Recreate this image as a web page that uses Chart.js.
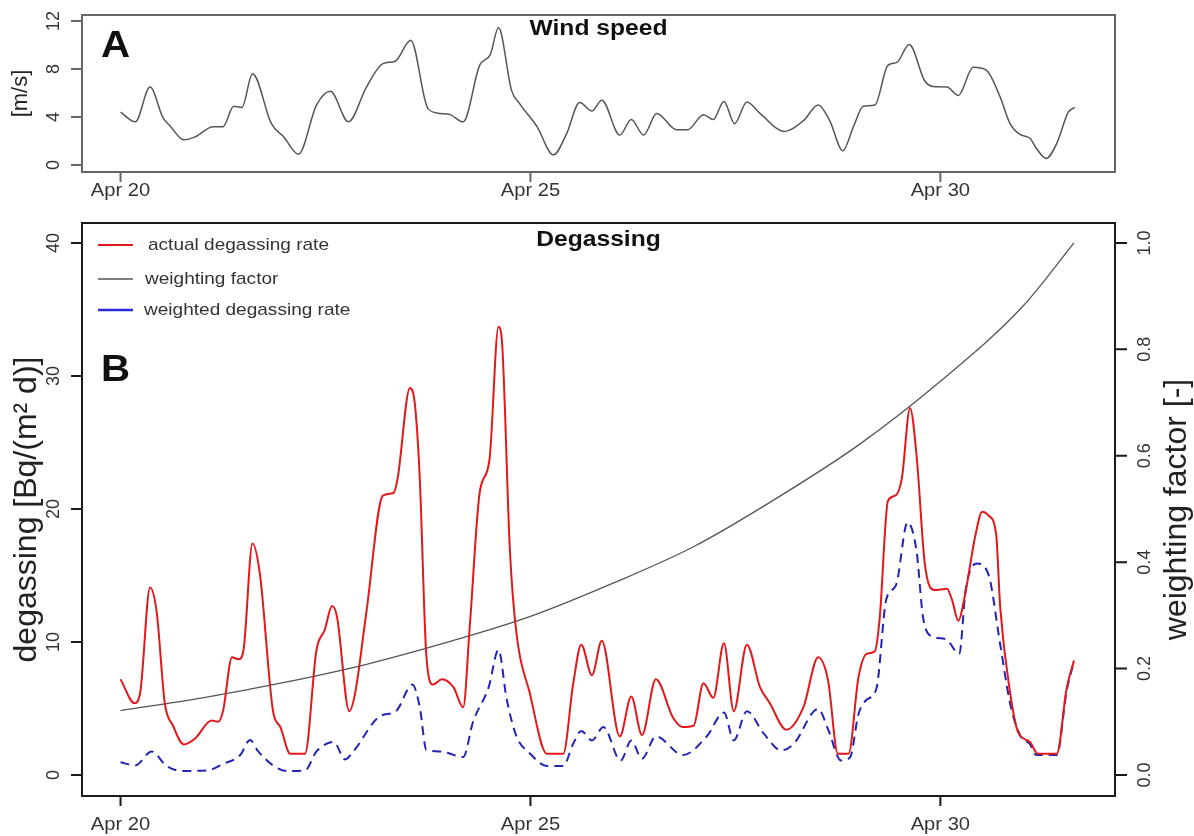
<!DOCTYPE html>
<html>
<head>
<meta charset="utf-8">
<script src="https://cdn.jsdelivr.net/npm/chart.js@4.4.1/dist/chart.umd.min.js"></script>
<style>
  body { margin: 0; background: #fff; }
  #wrap { position: relative; width: 1194px; height: 836px; }
  canvas { position: absolute; left: 0; }
</style>
</head>
<body>
<div id="wrap">
  <canvas id="windChart" width="1194" height="200" style="top:0"></canvas>
  <canvas id="degasChart" width="1194" height="636" style="top:200px"></canvas>
</div>
<script>
// x axis: days after Apr 20 00:00
const dayTicks = [0, 5, 10];
const dayLabels = ['Apr 20', 'Apr 25', 'Apr 30'];
const windTicks = [0, 4, 8, 12];
const degasTicks = [0, 10, 20, 30, 40];
const weightTicks = [0, 0.2, 0.4, 0.6, 0.8, 1.0];

// wind speed [m/s]
const windT = [0, 0.18, 0.36, 0.52, 0.6, 0.77, 0.91, 1.13, 1.25, 1.38, 1.48, 1.61, 1.84, 1.99, 2.17, 2.39, 2.56, 2.78, 3.0, 3.2,
  3.35, 3.54, 3.75, 3.9, 4.02, 4.18, 4.38, 4.51, 4.61, 4.77, 4.87, 5.08, 5.28, 5.44, 5.6, 5.75, 5.87, 6.09, 6.23, 6.38,
  6.54, 6.78, 6.92, 7.11, 7.23, 7.36, 7.49, 7.64, 7.8, 8.1, 8.33, 8.51, 8.65, 8.81, 8.94, 9.06, 9.2, 9.36, 9.47, 9.62,
  9.81, 9.91, 10.08, 10.22, 10.4, 10.56, 10.73, 10.85, 10.97, 11.09, 11.17, 11.29, 11.42, 11.56, 11.64];
const windV = [4.4, 3.6, 6.5, 3.9, 3.3, 2.1, 2.35, 3.2, 3.2, 4.9, 4.8, 7.6, 3.45, 2.35, 0.9, 5.0, 6.15, 3.6, 6.5, 8.45,
  8.65, 10.4, 4.7, 4.3, 4.2, 3.6, 8.3, 9.2, 11.45, 6.2, 5.1, 3.2, 0.85, 2.6, 5.2, 4.5, 5.4, 2.5, 3.8, 2.5,
  4.3, 2.95, 2.95, 4.2, 3.8, 5.3, 3.45, 5.25, 4.3, 2.8, 3.7, 5.0, 3.7, 1.2, 3.2, 4.9, 5.0, 8.3, 8.55, 10.05,
  7.0, 6.55, 6.5, 5.8, 8.15, 7.9, 5.65, 3.45, 2.55, 2.25, 1.4, 0.55, 1.8, 4.4, 4.8];

// actual degassing rate [Bq/(m2 d)]
const actualT = [0, 0.17, 0.24, 0.36, 0.44, 0.54, 0.64, 0.77, 0.91, 1.11, 1.19, 1.25, 1.36, 1.44, 1.5, 1.61, 1.7, 1.86, 1.95, 2.07,
  2.25, 2.39, 2.49, 2.58, 2.64, 2.79, 2.86, 3.0, 3.2, 3.33, 3.38, 3.53, 3.59, 3.65, 3.73, 3.81, 3.92, 4.06, 4.18, 4.26,
  4.38, 4.5, 4.61, 4.65, 4.75, 4.83, 4.99, 5.2, 5.4, 5.52, 5.62, 5.75, 5.87, 6.09, 6.23, 6.36, 6.53, 6.74, 6.86, 6.99,
  7.11, 7.23, 7.36, 7.48, 7.64, 7.8, 7.92, 8.12, 8.33, 8.51, 8.63, 8.75, 8.88, 9.0, 9.1, 9.2, 9.26, 9.36, 9.45, 9.53,
  9.63, 9.71, 9.81, 9.93, 10.08, 10.14, 10.22, 10.29, 10.43, 10.51, 10.59, 10.68, 10.73, 10.85, 10.95, 11.09, 11.19, 11.42, 11.54, 11.63];
const actualV = [7.2, 5.4, 6.2, 14.1, 12.3, 5.4, 3.7, 2.3, 2.75, 4.1, 4.0, 4.8, 8.85, 8.7, 9.4, 17.4, 15.1, 4.8, 3.6, 1.6,
  1.6, 9.4, 10.9, 12.7, 11.9, 4.8, 6.1, 12.3, 21.0, 21.2, 22.3, 29.1, 27.9, 22.3, 9.0, 6.8, 7.2, 6.6, 5.1, 11.2,
  21.2, 23.7, 33.7, 32.8, 16.8, 10.6, 6.2, 1.6, 1.6, 6.8, 9.8, 7.5, 10.1, 2.9, 5.9, 3.0, 7.2, 4.3, 3.6, 3.7,
  6.9, 5.8, 9.9, 4.8, 9.8, 6.6, 5.4, 3.4, 5.1, 8.85, 7.1, 1.6, 1.6, 7.3, 9.1, 9.3, 11.8, 20.6, 21.0, 22.3,
  27.6, 24.0, 15.9, 13.9, 14.0, 13.2, 11.6, 13.2, 18.1, 19.8, 19.5, 18.1, 12.6, 6.2, 3.2, 2.5, 1.6, 1.6, 6.5, 8.6];

// weighting factor [-]
const weightT = [0, 1, 2, 3, 4, 5, 6, 7, 8, 9, 10, 11, 11.63];
const weightV = [0.121, 0.145, 0.174, 0.208, 0.25, 0.298, 0.36, 0.43, 0.52, 0.62, 0.74, 0.88, 1.0];

// weighted degassing rate [Bq/(m2 d)]
const weightedT = [0, 0.18, 0.38, 0.56, 0.77, 1.06, 1.25, 1.46, 1.58, 1.68, 1.86, 2.03, 2.25, 2.39, 2.6, 2.74, 2.84, 3.16, 3.36, 3.56,
  3.65, 3.73, 3.9, 4.18, 4.3, 4.49, 4.61, 4.71, 4.83, 4.99, 5.2, 5.4, 5.52, 5.62, 5.75, 5.89, 6.1, 6.23, 6.36, 6.53,
  6.86, 7.15, 7.36, 7.48, 7.64, 7.84, 8.06, 8.21, 8.51, 8.63, 8.79, 8.9, 9.0, 9.1, 9.22, 9.34, 9.46, 9.6, 9.71, 9.79,
  9.91, 10.07, 10.23, 10.31, 10.45, 10.59, 10.73, 10.85, 10.97, 11.09, 11.17, 11.42, 11.54, 11.63];
const weightedV = [0.95, 0.72, 1.77, 0.68, 0.3, 0.35, 0.83, 1.5, 2.63, 1.77, 0.72, 0.3, 0.35, 1.77, 2.48, 1.17, 1.77, 4.4, 4.8, 6.8,
  5.1, 1.9, 1.77, 1.35, 4.0, 6.6, 9.4, 5.7, 2.9, 1.64, 0.68, 0.68, 2.33, 3.3, 2.6, 3.6, 1.08, 2.6, 1.22, 2.9,
  1.5, 2.9, 4.7, 2.6, 4.8, 3.16, 1.85, 2.33, 4.97, 3.44, 1.08, 1.35, 4.55, 5.66, 6.5, 13.2, 14.3, 19.0, 16.8, 11.8,
  10.4, 10.2, 9.1, 14.0, 15.9, 15.0, 9.8, 5.4, 3.0, 2.33, 1.5, 1.5, 6.3, 8.57];

const legendItems = ['actual degassing rate', 'weighting factor', 'weighted degassing rate'];

const FONT = '"Liberation Sans", Arial, sans-serif';
const SX = 1.12; // the figure is a bit wider than tall
const X_MIN = -0.47, X_MAX = 12.13;

const pts = (ts, vs) => ts.map((t, i) => ({ x: t, y: vs[i] }));

function txt(ctx, s, x, y, font, o) {
  o = o || {};
  ctx.save();
  ctx.translate(x, y);
  if (o.rot) ctx.rotate(o.rot);
  else ctx.scale(SX, 1);
  ctx.font = font;
  ctx.fillStyle = o.color || '#222';
  ctx.textAlign = o.align || 'center';
  ctx.textBaseline = o.base || 'middle';
  ctx.fillText(s, 0, 0);
  ctx.restore();
}

// R-style box, ticks and labels, drawn from the chart scales
const rFrame = {
  id: 'rFrame',
  afterDatasetsDraw(chart, args, o) {
    const ctx = chart.ctx, a = chart.chartArea;
    ctx.save();
    ctx.strokeStyle = o.color;
    ctx.lineWidth = o.width;
    ctx.strokeRect(a.left, a.top, a.right - a.left, a.bottom - a.top);

    const xs = chart.scales.x;
    ctx.beginPath();
    dayTicks.forEach(t => {
      const px = xs.getPixelForValue(t);
      ctx.moveTo(px, a.bottom); ctx.lineTo(px, a.bottom + 10);
    });
    const ys = chart.scales.y;
    o.yTicks.forEach(v => {
      const py = ys.getPixelForValue(v);
      ctx.moveTo(a.left, py); ctx.lineTo(a.left - 11, py);
    });
    if (o.y2Ticks) {
      const y2 = chart.scales.y2;
      o.y2Ticks.forEach(v => {
        const py = y2.getPixelForValue(v);
        ctx.moveTo(a.right, py); ctx.lineTo(a.right + 12, py);
      });
    }
    ctx.stroke();
    ctx.restore();

    const tickFont = '18px ' + FONT;
    dayTicks.forEach((t, i) => {
      txt(ctx, dayLabels[i], xs.getPixelForValue(t), a.bottom + o.xLabOff, tickFont, { color: '#333' });
    });
    o.yTicks.forEach(v => {
      txt(ctx, String(v), a.left - 28, ys.getPixelForValue(v), tickFont, { rot: -Math.PI / 2, color: '#333' });
    });
    if (o.y2Ticks) {
      const y2 = chart.scales.y2;
      o.y2Ticks.forEach(v => {
        txt(ctx, v.toFixed(1), a.right + 30, y2.getPixelForValue(v), tickFont, { rot: -Math.PI / 2, color: '#333' });
      });
    }
    const midY = (a.top + a.bottom) / 2;
    txt(ctx, o.yTitle, o.yTitleX, midY, o.yTitleFont, { rot: -Math.PI / 2, color: '#222' });
    if (o.y2Title) txt(ctx, o.y2Title, o.y2TitleX, midY, o.yTitleFont, { rot: -Math.PI / 2, color: '#222' });

    txt(ctx, o.panel, a.left + 19, o.panelY, 'bold 36px ' + FONT, { align: 'left', base: 'alphabetic', color: '#111' });
    txt(ctx, o.title, (a.left + a.right) / 2, o.titleY, 'bold 22px ' + FONT, { base: 'alphabetic', color: '#111' });

    if (o.legend) {
      chart.data.datasets.forEach((ds, i) => {
        const ly = o.legend.y[i];
        ctx.save();
        ctx.strokeStyle = o.legend.colors[i];
        ctx.lineWidth = o.legend.widths[i];
        ctx.beginPath();
        ctx.moveTo(98, ly); ctx.lineTo(133, ly);
        ctx.stroke();
        ctx.restore();
        txt(ctx, legendItems[i], o.legend.x[i], ly, '17px ' + FONT, { align: 'left', color: '#333' });
      });
    }
  }
};

new Chart(document.getElementById('windChart'), {
  type: 'line',
  data: {
    datasets: [{
      label: 'Wind speed',
      data: pts(windT, windV),
      borderColor: '#555',
      borderWidth: 1.5,
      cubicInterpolationMode: 'monotone',
      pointRadius: 0
    }]
  },
  options: {
    responsive: false,
    animation: false,
    layout: { padding: { left: 82, right: 79, top: 15, bottom: 28 } },
    plugins: {
      legend: { display: false },
      tooltip: { enabled: false },
      rFrame: {
        color: '#666', width: 2,
        yTicks: windTicks, xLabOff: 19,
        yTitle: '[m/s]', yTitleX: 21, yTitleFont: '22px ' + FONT,
        panel: 'A', panelY: 57,
        title: 'Wind speed', titleY: 35
      }
    },
    scales: {
      x: { type: 'linear', display: false, min: X_MIN, max: X_MAX },
      y: { display: false, min: -0.58, max: 12.5 }
    }
  },
  plugins: [rFrame]
});

new Chart(document.getElementById('degasChart'), {
  type: 'line',
  data: {
    datasets: [{
      label: legendItems[0],
      data: pts(actualT, actualV),
      borderColor: '#e3181c',
      borderWidth: 2,
      cubicInterpolationMode: 'monotone',
      pointRadius: 0,
      yAxisID: 'y'
    }, {
      label: legendItems[1],
      data: pts(weightT, weightV),
      borderColor: '#555',
      borderWidth: 1.3,
      cubicInterpolationMode: 'monotone',
      pointRadius: 0,
      yAxisID: 'y2'
    }, {
      label: legendItems[2],
      data: pts(weightedT, weightedV),
      borderColor: '#2323b4',
      borderWidth: 2,
      borderDash: [9, 6],
      cubicInterpolationMode: 'monotone',
      pointRadius: 0,
      yAxisID: 'y'
    }]
  },
  options: {
    responsive: false,
    animation: false,
    layout: { padding: { left: 82, right: 79, top: 23, bottom: 40 } },
    plugins: {
      legend: { display: false },
      tooltip: { enabled: false },
      rFrame: {
        color: '#1a1a1a', width: 2,
        yTicks: degasTicks, y2Ticks: weightTicks, xLabOff: 29,
        yTitle: 'degassing [Bq/(m² d)]', yTitleX: 27, yTitleFont: '32px ' + FONT,
        y2Title: 'weighting factor [-]', y2TitleX: 1177,
        panel: 'B', panelY: 181,
        title: 'Degassing', titleY: 46,
        legend: {
          y: [45, 79, 110],
          x: [148, 145, 144],
          colors: ['#e3181c', '#555', '#2a2ae0'],
          widths: [2, 1.5, 2.5]
        }
      }
    },
    scales: {
      x: { type: 'linear', display: false, min: X_MIN, max: X_MAX },
      y: { display: false, min: -1.58, max: 41.5 },
      y2: { display: false, position: 'right', min: -0.0395, max: 1.0375 }
    }
  },
  plugins: [rFrame]
});
</script>
</body>
</html>
